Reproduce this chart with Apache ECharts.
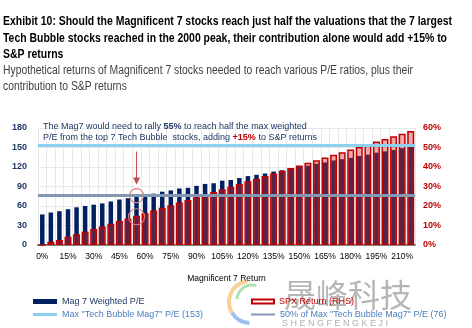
<!DOCTYPE html>
<html><head><meta charset="utf-8">
<script src="https://cdn.jsdelivr.net/npm/echarts@6/dist/echarts.min.js"></script>
<style>html,body{margin:0;padding:0;background:#fff}#c{width:472px;height:328px}</style>
</head><body><div id="c"></div>
<script>
const categories = ['0%','5%','10%','15%','20%','25%','30%','35%','40%','45%','50%','55%','60%','65%','70%','75%','80%','85%','90%','95%','100%','105%','110%','115%','120%','125%','130%','135%','140%','145%','150%','155%','160%','165%','170%','175%','180%','185%','190%','195%','200%','205%','210%','215%'];
const magPE = [47,50,52,55,58,60,62,64,67,70,72,75,76,79,82,84,87,88,91,94,95,99,100,103,106,108,110,113,115,118,120,122,125,127,130,132,134,137,139,142,144,146,149,151];
const spxReturn = [0,1.7,2.6,4.2,5.5,6.8,8.2,9.5,10.9,12.3,13.6,15.0,16.3,17.7,19.1,20.4,21.8,23.1,24.5,25.9,27.2,28.6,29.9,31.3,32.7,34.0,35.4,36.7,38.1,39.5,40.8,42.2,43.5,44.9,46.3,47.6,49.0,50.3,51.7,53.1,54.4,55.8,57.1,58.5];
const maxTechPE = 153;
const halfTechPE = 76;
const highlightCat = '55%';
const highlightSpx = 15;

const NAVY = '#002060', RED = '#c00000', LBLUE = '#8ccfee', SLATE = '#8497b0';
const chart = echarts.init(document.getElementById('c'), null, {renderer:'canvas'});
const nm = ['Mag 7 Weighted P/E','SPX Return (RHS)','Max "Tech Bubble Mag7" P/E (153)','50% of Max "Tech Bubble Mag7" P/E (76)'];
chart.setOption({
  animation:false,
  grid:{left:38, right:57, top:128, bottom:83},
  xAxis:[{
    type:'category', data:categories, boundaryGap:true,
    axisLine:{lineStyle:{color:'#7f7f7f', width:2}},
    axisTick:{show:false},
    axisLabel:{interval:2, fontSize:8.5, color:'#000', margin:7, fontFamily:'Liberation Sans'},
    splitLine:{show:true, interval:0, lineStyle:{color:'#e8e8e8'}},
    name:'Magnificent 7 Return', nameLocation:'middle', nameGap:29,
    nameTextStyle:{fontSize:8.5, color:'#000', fontFamily:'Liberation Sans'}
  },{
    type:'category', data:categories, show:false, boundaryGap:true
  }],
  yAxis:[{
    type:'value', min:0, max:180, interval:30,
    axisLine:{show:false}, axisTick:{show:false},
    axisLabel:{fontSize:9, fontWeight:'bold', color:'#1f3864', margin:11, fontFamily:'Liberation Sans'},
    splitLine:{lineStyle:{color:'#e8e8e8'}}
  },{
    type:'value', min:0, max:60, interval:10,
    axisLine:{show:false}, axisTick:{show:false},
    axisLabel:{formatter:'{value}%', fontSize:9, fontWeight:'bold', color:RED, margin:8, fontFamily:'Liberation Sans'},
    splitLine:{show:false}
  }],
  legend:[
    {data:[{name:nm[0], icon:'rect'}], left:28, top:292, itemWidth:24, itemHeight:5, itemGap:4,
     textStyle:{fontSize:9, color:'#1f3864', fontFamily:'Liberation Sans'}},
    {data:[{name:nm[1], icon:'rect', itemStyle:{color:'#fff', borderColor:RED, borderWidth:2}}], left:246, top:292, itemWidth:22, itemHeight:4,
     textStyle:{fontSize:9, color:RED, fontFamily:'Liberation Sans'}},
    {data:[{name:nm[2], icon:'rect'}], left:28, top:305, itemWidth:24, itemHeight:3,
     textStyle:{fontSize:9, color:'#4a7ebb', fontFamily:'Liberation Sans'}},
    {data:[{name:nm[3], icon:'rect'}], left:246, top:305, itemWidth:24, itemHeight:2,
     textStyle:{fontSize:9, color:'#4a7ebb', fontFamily:'Liberation Sans'}}
  ],
  series:[
    {name:nm[0], type:'bar', xAxisIndex:0, yAxisIndex:0, data:magPE, barWidth:4.5, color:NAVY, itemStyle:{color:NAVY}},
    {name:nm[1], type:'bar', xAxisIndex:1, yAxisIndex:1, data:spxReturn, barWidth:7, color:RED,
     itemStyle:{color:'rgba(215,40,40,0.4)', borderColor:RED, borderWidth:1.5}},
    {name:nm[2], type:'line', xAxisIndex:0, yAxisIndex:0, data:[], color:LBLUE, symbol:'none',
     markLine:{silent:true, symbol:'none', label:{show:false}, lineStyle:{color:LBLUE, width:3, type:'solid'}, data:[{yAxis:maxTechPE}]}},
    {name:nm[3], type:'line', xAxisIndex:0, yAxisIndex:0, data:[], color:SLATE, symbol:'none',
     markLine:{silent:true, symbol:'none', label:{show:false}, lineStyle:{color:SLATE, width:3, type:'solid'}, data:[{yAxis:halfTechPE}]}}
  ]
});

const mctx = document.createElement('canvas').getContext('2d');
function fit(text, font, w){ mctx.font = font; return w / mctx.measureText(text).width; }
const titleFont = 'bold 12.5px "Liberation Sans"';
const subFont = '12px "Liberation Sans"';
const t1 = 'Exhibit 10: Should the Magnificent 7 stocks reach just half the valuations that the 7 largest';
const t2 = 'Tech Bubble stocks reached in the 2000 peak, their contribution alone would add +15% to';
const s1 = 'Hypothetical returns of Magnificent 7 stocks needed to reach various P/E ratios, plus their';
const ts = fit(t1, titleFont, 449), ts2 = fit(t2, titleFont, 444), ss = fit(s1, subFont, 410);

const p1 = chart.convertToPixel({xAxisIndex:0, yAxisIndex:0}, [highlightCat, halfTechPE]);
const p2 = chart.convertToPixel({xAxisIndex:1, yAxisIndex:1}, [highlightCat, highlightSpx]);
const pTop = chart.convertToPixel({xAxisIndex:0, yAxisIndex:0}, [highlightCat, maxTechPE]);
function txt(x, y, s, text, font, fill){ return {type:'text', x:x, y:y, scaleX:s, z:100, style:{text:text, font:font, fill:fill, textVerticalAlign:'top'}}; }
chart.setOption({graphic:[
  txt(3, 15, ts, t1, titleFont, '#000'),
  txt(3, 32, ts2, t2, titleFont, '#000'),
  txt(3, 48, ts, 'S&P returns', titleFont, '#000'),
  txt(3, 65, ss, s1, subFont, '#404040'),
  txt(3, 81, ss, 'contribution to S&P returns', subFont, '#404040'),
  {type:'text', left:43, top:122, z:100, style:{
    text:'{n|The Mag7 would need to rally }{b|55%}{n| to reach half the max weighted}\n{n|P/E from the top 7 Tech Bubble  stocks, adding }{r|+15%}{n| to S&P returns}',
    rich:{n:{font:'9px "Liberation Sans"', fill:'#1f3864', lineHeight:11},
          b:{font:'bold 9px "Liberation Sans"', fill:'#1f3864', lineHeight:11},
          r:{font:'bold 9px "Liberation Sans"', fill:RED, lineHeight:11}}}},
  {type:'line', z:100, shape:{x1:p1[0], y1:pTop[1]+6, x2:p1[0], y2:p1[1]-14}, style:{stroke:'#c0504d', lineWidth:1}},
  {type:'polygon', z:100, shape:{points:[[p1[0]-3.5,p1[1]-18],[p1[0]+3.5,p1[1]-18],[p1[0],p1[1]-11]]}, style:{fill:'#c0504d'}},
  {type:'circle', z:100, shape:{cx:p1[0], cy:p1[1], r:7}, style:{fill:'none', stroke:'#d98080', lineWidth:1.2}},
  {type:'circle', z:100, shape:{cx:p2[0], cy:p2[1]+1, r:8}, style:{fill:'none', stroke:'#d98080', lineWidth:1.2}},
  {type:'arc', z:1, shape:{cx:250, cy:302, r:21, startAngle:2.6, endAngle:4.6}, style:{stroke:'rgba(250,170,60,0.55)', lineWidth:4, fill:'none'}},
  {type:'arc', z:1, shape:{cx:250, cy:302, r:21, startAngle:1.6, endAngle:2.6}, style:{stroke:'rgba(70,140,230,0.55)', lineWidth:4, fill:'none'}},
  {type:'arc', z:1, shape:{cx:252, cy:300, r:15, startAngle:3.2, endAngle:5.0}, style:{stroke:'rgba(110,200,120,0.55)', lineWidth:3, fill:'none'}},
  {type:'text', z:1, left:284, top:279, style:{text:'晟峰科技', font:'32px "Noto Sans CJK SC"', fill:'rgba(110,110,110,0.5)'}},
  {type:'text', z:1, left:282, top:319, style:{text:'S H E N G F E N G K E J I', font:'9px "Liberation Sans"', fill:'rgba(110,110,110,0.55)'}}
]});
</script></body></html>
